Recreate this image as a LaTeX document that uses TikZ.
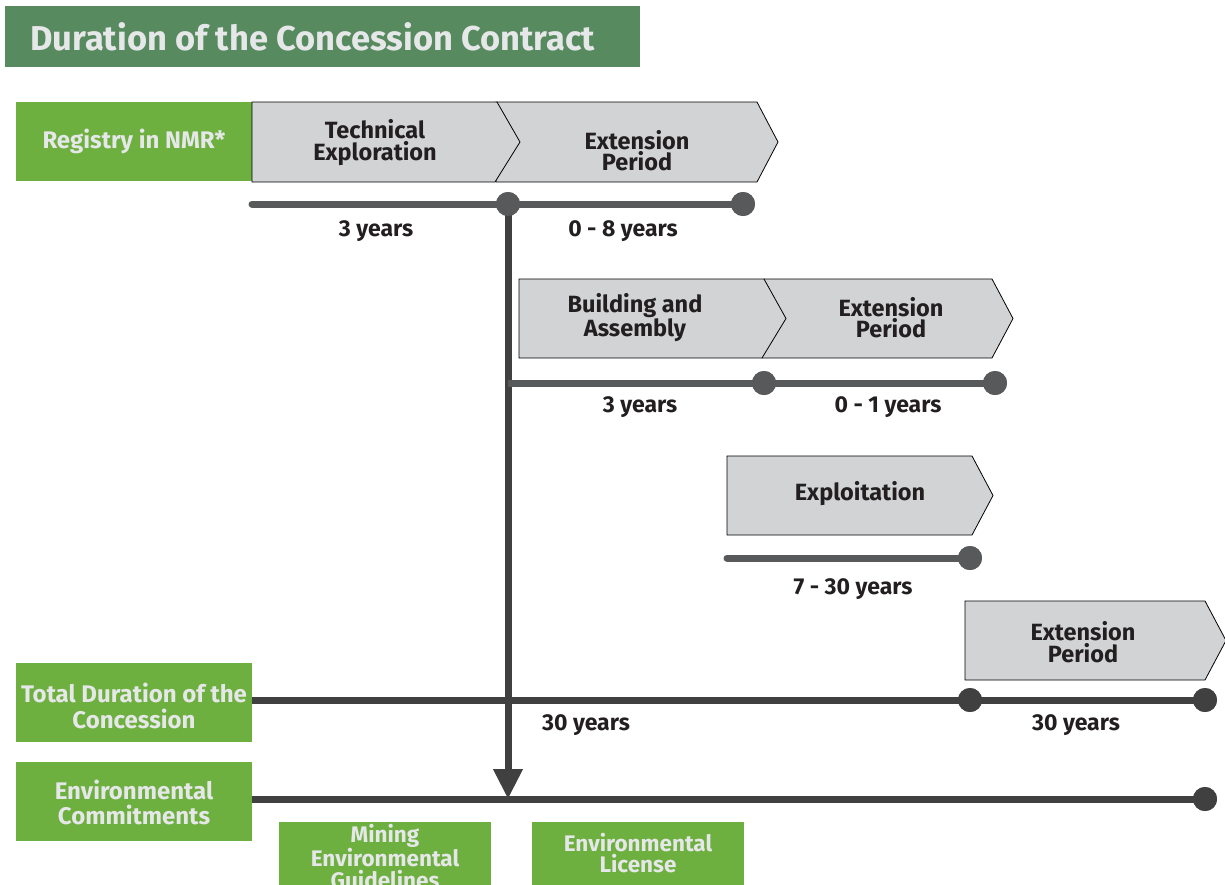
\documentclass[tikz,border=0pt]{standalone}
\usepackage{fontspec}
\setmainfont{Fira Sans}
\usetikzlibrary{arrows.meta}
\definecolor{tgreen}{HTML}{578A5E}
\definecolor{bgreen}{HTML}{6DB03F}
\definecolor{chevgray}{HTML}{D1D3D4}
\definecolor{lineg}{HTML}{58595B}
\definecolor{darkl}{HTML}{404041}
\definecolor{lighttxt}{HTML}{E6E7E8}
\definecolor{txt}{HTML}{231F20}
\begin{document}
\begin{tikzpicture}[x=1pt,y=-1pt,
  chev/.style={draw=black, line width=0.8pt, fill=chevgray, line join=miter},
  ctext/.style={font=\bfseries\fontsize{23.5}{21.5}\selectfont, text=txt, align=center, inner sep=0},
  gbox/.style={fill=bgreen, draw=none, inner sep=0},
  gtext/.style={font=\bfseries\fontsize{24}{26}\selectfont, text=lighttxt, align=center, inner sep=0},
  btext/.style={font=\bfseries\fontsize{22.5}{21.5}\selectfont, text=lighttxt, align=center, inner sep=0},
  tl/.style={line width=7pt, draw=lineg, line cap=round},
  tld/.style={line width=7pt, draw=darkl},
  dot/.style={circle, fill=lineg, minimum size=24pt, inner sep=0},
  ddot/.style={circle, fill=darkl, minimum size=24pt, inner sep=0},
  lab/.style={font=\bfseries\fontsize{23}{23}\selectfont, text=txt, inner sep=0}]
\useasboundingbox (0,0) rectangle (1225,884);
\clip (0,0) rectangle (1225,884);

% title
\node[fill=tgreen, minimum width=635pt, minimum height=61pt, inner sep=0] (titlebar) at (322.5,36.5) {};
\node[anchor=west, font=\bfseries\fontsize{34.5}{34.5}\selectfont, text=lighttxt, inner sep=0] (title) at (30,37) {Duration of the Concession Contract};

% green boxes
\node[gbox, minimum width=236pt, minimum height=79pt] (reg) at (134,141.5) {};
\node[gtext] at (reg) {Registry in NMR*};
\node[gbox, minimum width=236pt, minimum height=79pt] (tot) at (134,702.5) {};
\node[gtext] at (134,706) {Total Duration of the\\Concession};
\node[gbox, minimum width=236pt, minimum height=79pt] (env) at (134,801.5) {};
\node[gtext, font=\bfseries\fontsize{24}{25}\selectfont] at (134,802.5) {Environmental\\Commitments};
\node[gbox, minimum width=212pt, minimum height=80pt] (mining) at (385,862) {};
\node[btext, anchor=north] at (385,824) {Mining\\Environmental\\Guidelines};
\node[gbox, minimum width=212pt, minimum height=80pt] (lic) at (638,862) {};
\node[btext, anchor=north] at (638,833) {Environmental\\License};

% chevrons row 1
\draw[chev] (496,102) -- (757,102) -- (778,142) -- (757,182) -- (496,182) -- cycle;
\draw[chev] (252,102) -- (497,102) -- (520,142) -- (495,182) -- (252,182) -- cycle;
\node[ctext] (tech) at (375,142.5) {Technical\\Exploration};
\node[ctext] (ext1) at (637,150.5) {Extension\\Period};

% chevrons row 2
\draw[chev] (764,279) -- (992,279) -- (1013,318.5) -- (992,358) -- (762,358) -- cycle;
\draw[chev] (519,279) -- (764,279) -- (786,318.5) -- (762,358) -- (519,358) -- cycle;
\node[ctext] (build) at (635,317.5) {Building and\\Assembly};
\node[ctext] (ext2) at (891,317.5) {Extension\\Period};

% chevron row 3
\draw[chev] (727,456) -- (972,456) -- (993,495.5) -- (972,535) -- (727,535) -- cycle;
\node[ctext] (expl) at (860,494) {Exploitation};

% chevron row 4
\draw[chev] (965,601) -- (1205,601) -- (1226,640.5) -- (1205,680) -- (965,680) -- cycle;
\node[ctext] (ext3) at (1083,642) {Extension\\Period};

% timeline 1
\coordinate (t1s) at (252,204);
\node[dot] (d1a) at (508,204) {};
\node[dot] (d1b) at (743,204) {};
% vertical arrow
\coordinate (vtip) at (508,799);
\draw[tld, -{Triangle[width=28pt,length=30pt]}] (d1a.center) -- (vtip);
\draw[tl] (t1s) -- (d1b.center);
\node[dot] at (d1a) {};
\node[dot] at (d1b) {};
\node[lab] at (376,231) {3 years};
\node[lab] at (623,231) {0 - 8 years};

% timeline 2
\coordinate (t2s) at (508,383);
\node[dot] (d2a) at (764,383) {};
\node[dot] (d2b) at (995,383) {};
\draw[tl, line cap=butt] (t2s) -- (d2b.center);
\node[dot] at (d2a) {};
\node[dot] at (d2b) {};
\node[lab] at (640,407) {3 years};
\node[lab] at (888,407) {0 - 1 years};

% timeline 3
\coordinate (t3s) at (727,558);
\node[dot] (d3) at (970,558) {};
\draw[tl] (t3s) -- (d3.center);
\node[dot] at (d3) {};
\node[lab] at (853,589) {7 - 30 years};

% timeline 4
\node[dot] (d4a) at (970,700) {};
\node[dot] (d4b) at (1205,700) {};
\draw[tld] (tot.east |- d4a) -- (d4b.center);
\node[ddot] at (d4a) {};
\node[ddot] at (d4b) {};
\node[lab] at (586,725) {30 years};
\node[lab] at (1076,725) {30 years};

% timeline 5
\node[ddot] (d5) at (1205,799) {};
\draw[tld] (env.east |- d5) -- (d5.center);
\node[ddot] at (d5) {};
\end{tikzpicture}
\end{document}
